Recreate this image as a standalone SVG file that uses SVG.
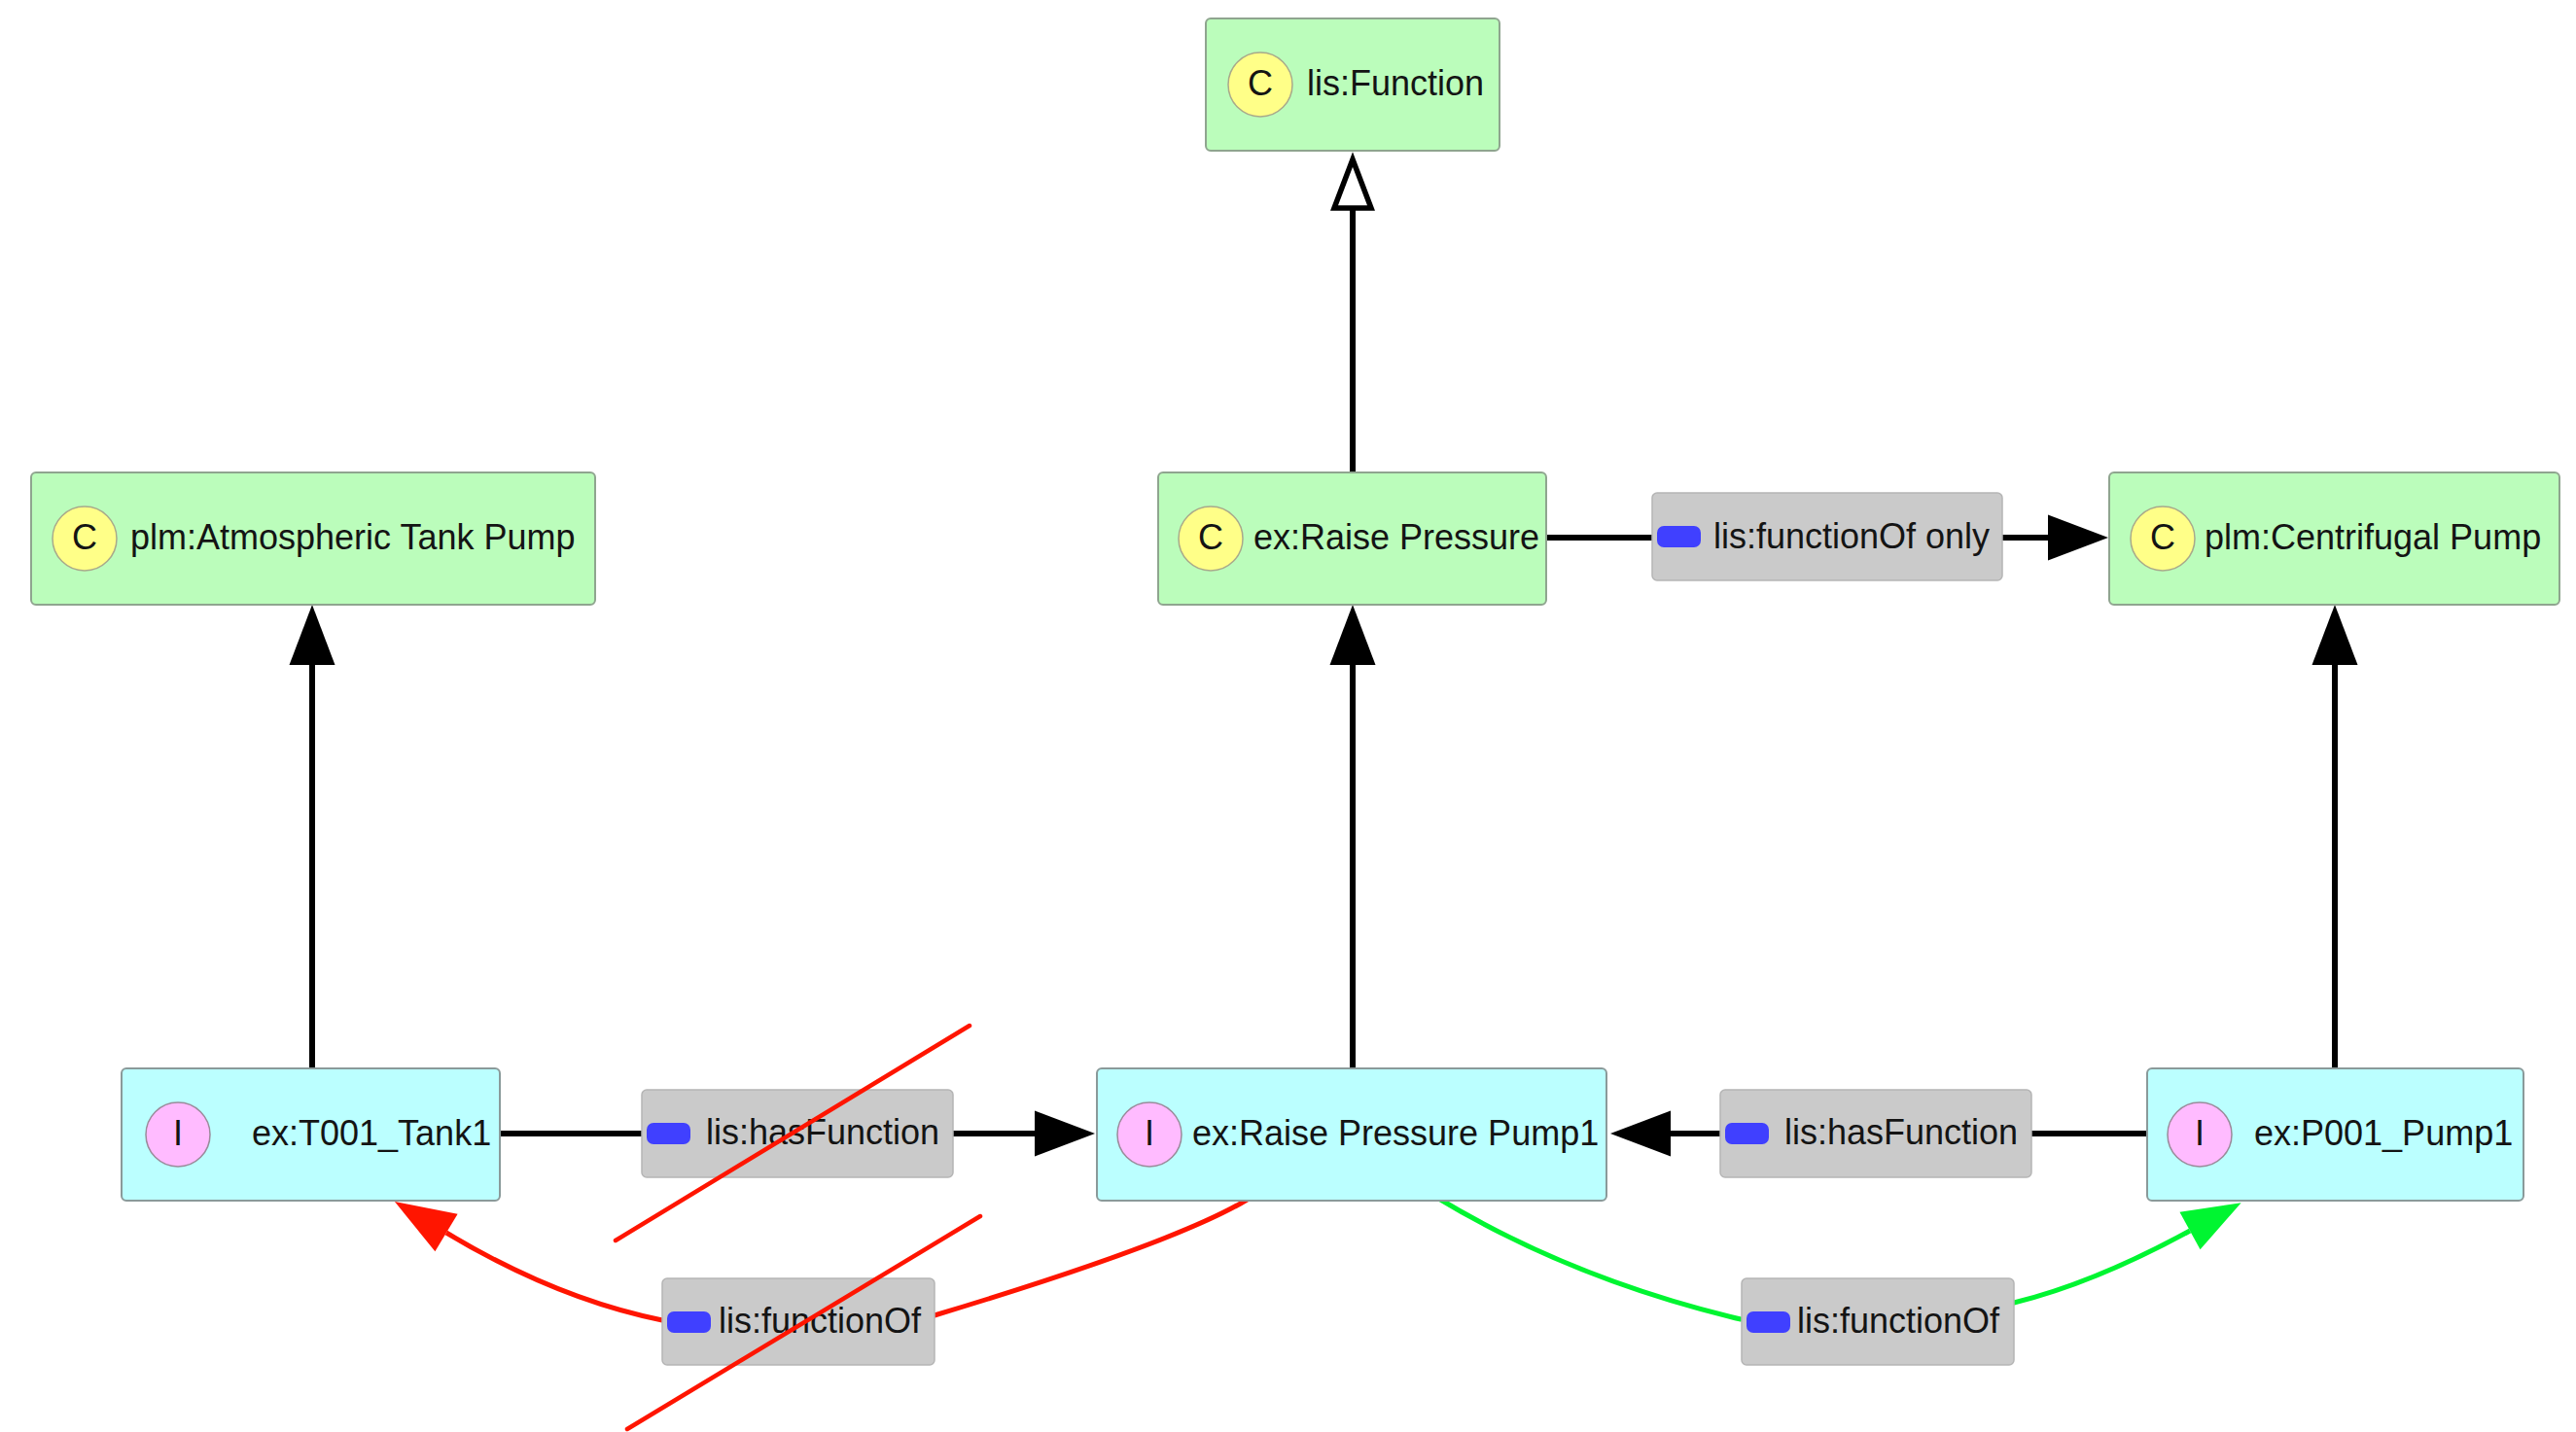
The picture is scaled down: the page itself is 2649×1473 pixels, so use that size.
<svg xmlns="http://www.w3.org/2000/svg" width="2649" height="1473" viewBox="0 0 2649 1473">
  <style>
    .cls rect.box { fill: #bbfdbb; stroke: #8fa58f; stroke-width: 2; }
    .ind rect.box { fill: #bbffff; stroke: #8a9a9a; stroke-width: 2; }
    .cls circle { fill: #ffff88; stroke: #a9a98a; stroke-width: 1.5; }
    .ind circle { fill: #ffbbff; stroke: #9a8a9a; stroke-width: 1.5; }
    text { font-family: "Liberation Sans", Arial, Helvetica, sans-serif; font-size: 36px; fill: #141414; }
    text.badge { text-anchor: middle; }
    .edge { fill: none; stroke: #000; stroke-width: 6; }
    .edge-red { fill: none; stroke: #ff1500; stroke-width: 5; }
    .edge-green { fill: none; stroke: #00f531; stroke-width: 5; }
    .lbl rect.bg { fill: #cacaca; stroke: #b5b5b5; stroke-width: 1.5; }
    .lbl rect.chip { fill: #4040ff; }
    .strike { stroke: #ff1500; stroke-width: 4.5; stroke-linecap: round; }
  </style>
  <defs>
    <marker id="arrow" markerUnits="userSpaceOnUse" orient="auto" refX="0" refY="0" markerWidth="70" markerHeight="60" viewBox="0 -30 70 60" overflow="visible">
      <path d="M0,-23.5 L62,0 L0,23.5 Z" fill="#000"/>
    </marker>
    <marker id="arrow-hollow" markerUnits="userSpaceOnUse" orient="auto" refX="0" refY="0" markerWidth="70" markerHeight="60" viewBox="0 -30 70 60" overflow="visible">
      <path d="M0,-19 L50,0 L0,19 Z" fill="#fff" stroke="#000" stroke-width="5.5"/>
    </marker>
    <marker id="arrow-red" markerUnits="userSpaceOnUse" orient="auto" refX="0" refY="0" markerWidth="70" markerHeight="60" viewBox="0 -30 70 60" overflow="visible">
      <path d="M0,-22.5 L62,0 L0,22.5 Z" fill="#ff1500"/>
    </marker>
    <marker id="arrow-green" markerUnits="userSpaceOnUse" orient="auto" refX="0" refY="0" markerWidth="70" markerHeight="60" viewBox="0 -30 70 60" overflow="visible">
      <path d="M0,-22 L60,0 L0,22 Z" fill="#00f531"/>
    </marker>
  </defs>

  <rect width="2649" height="1473" fill="#fff"/>

  <!-- connectors and their property labels -->
  <g id="connectors">
    <!-- subclass links -->
    <path class="edge" d="M1391,487 L1391,214" marker-end="url(#arrow-hollow)"/>
    <!-- type links -->
    <path class="edge" d="M321,1099 L321,684" marker-end="url(#arrow)"/>
    <path class="edge" d="M1391,1099 L1391,684" marker-end="url(#arrow)"/>
    <path class="edge" d="M2401,1099 L2401,684" marker-end="url(#arrow)"/>
    <!-- object properties -->
    <path class="edge" d="M1590,553 L2106,553" marker-end="url(#arrow)"/>
    <path class="edge" d="M515,1166 L1064,1166" marker-end="url(#arrow)"/>
    <path class="edge" d="M2208,1166 L1718,1166" marker-end="url(#arrow)"/>
    <path class="edge-red" d="M1284,1233 Q1213,1277 961,1353 L681,1358 Q572,1336 459,1268" marker-end="url(#arrow-red)"/>
    <path class="edge-green" d="M1478,1232 Q1617,1316 1790,1357 L2071,1340 Q2153,1320 2252,1266" marker-end="url(#arrow-green)"/>

    <g id="label-functionOf-only" class="lbl">
      <rect class="bg" x="1699" y="507" width="360" height="90" rx="5"/>
      <rect class="chip" x="1704" y="541" width="45" height="22" rx="7"/>
      <text class="badge" x="1904" y="564">lis:functionOf only</text>
    </g>
    <g id="label-hasFunction-tank" class="lbl">
      <rect class="bg" x="660" y="1121" width="320" height="90" rx="5"/>
      <rect class="chip" x="665" y="1155" width="45" height="22" rx="7"/>
      <text class="badge" x="846" y="1177">lis:hasFunction</text>
    </g>
    <g id="label-hasFunction-pump" class="lbl">
      <rect class="bg" x="1769" y="1121" width="320" height="90" rx="5"/>
      <rect class="chip" x="1774" y="1155" width="45" height="22" rx="7"/>
      <text class="badge" x="1955" y="1177">lis:hasFunction</text>
    </g>
    <g id="label-functionOf-tank" class="lbl">
      <rect class="bg" x="681" y="1315" width="280" height="89" rx="5"/>
      <rect class="chip" x="686" y="1349" width="45" height="22" rx="7"/>
      <text class="badge" x="843" y="1371">lis:functionOf</text>
    </g>
    <g id="label-functionOf-pump" class="lbl">
      <rect class="bg" x="1791" y="1315" width="280" height="89" rx="5"/>
      <rect class="chip" x="1796" y="1349" width="45" height="22" rx="7"/>
      <text class="badge" x="1952" y="1371">lis:functionOf</text>
    </g>
  </g>

  <!-- classes -->
  <g id="lis-Function" class="cls">
    <rect class="box" x="1240" y="19" width="302" height="136" rx="5"/>
    <circle cx="1296" cy="87" r="33"/>
    <text class="badge" x="1296" y="98">C</text>
    <text x="1344" y="98">lis:Function</text>
  </g>
  <g id="plm-Atmospheric-Tank-Pump" class="cls">
    <rect class="box" x="32" y="486" width="580" height="136" rx="5"/>
    <circle cx="87" cy="554" r="33"/>
    <text class="badge" x="87" y="565">C</text>
    <text x="134" y="565">plm:Atmospheric Tank Pump</text>
  </g>
  <g id="ex-Raise-Pressure" class="cls">
    <rect class="box" x="1191" y="486" width="399" height="136" rx="5"/>
    <circle cx="1245" cy="554" r="33"/>
    <text class="badge" x="1245" y="565">C</text>
    <text x="1289" y="565">ex:Raise Pressure</text>
  </g>
  <g id="plm-Centrifugal-Pump" class="cls">
    <rect class="box" x="2169" y="486" width="463" height="136" rx="5"/>
    <circle cx="2224" cy="554" r="33"/>
    <text class="badge" x="2224" y="565">C</text>
    <text x="2267" y="565">plm:Centrifugal Pump</text>
  </g>

  <!-- individuals -->
  <g id="ex-T001_Tank1" class="ind">
    <rect class="box" x="125" y="1099" width="389" height="136" rx="5"/>
    <circle cx="183" cy="1167" r="33"/>
    <text class="badge" x="183" y="1178">I</text>
    <text x="259" y="1178">ex:T001_Tank1</text>
  </g>
  <g id="ex-Raise-Pressure-Pump1" class="ind">
    <rect class="box" x="1128" y="1099" width="524" height="136" rx="5"/>
    <circle cx="1182" cy="1167" r="33"/>
    <text class="badge" x="1182" y="1178">I</text>
    <text x="1226" y="1178">ex:Raise Pressure Pump1</text>
  </g>
  <g id="ex-P001_Pump1" class="ind">
    <rect class="box" x="2208" y="1099" width="387" height="136" rx="5"/>
    <circle cx="2262" cy="1167" r="33"/>
    <text class="badge" x="2262" y="1178">I</text>
    <text x="2318" y="1178">ex:P001_Pump1</text>
  </g>

  <!-- strike-through marks over the rejected assertions -->
  <g id="strikes">
    <line class="strike" x1="633" y1="1276" x2="997" y2="1055"/>
    <line class="strike" x1="645" y1="1470" x2="1008" y2="1251"/>
  </g>
</svg>
